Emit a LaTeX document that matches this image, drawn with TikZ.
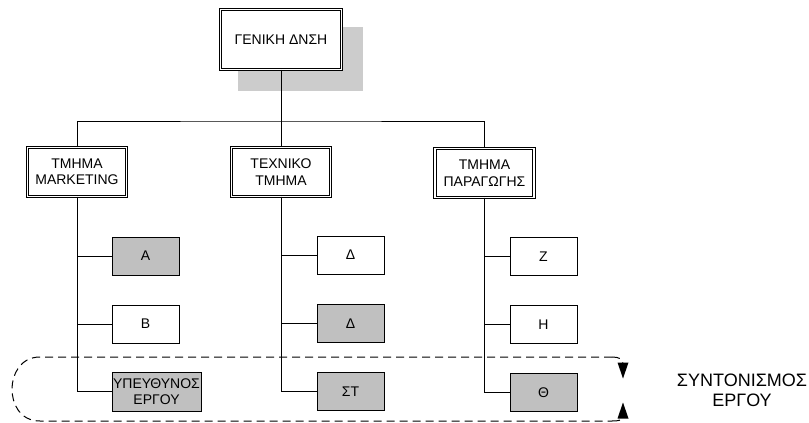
\documentclass[tikz,border=0pt]{standalone}
\usepackage{fontspec}
\setmainfont{Liberation Sans}
\usetikzlibrary{arrows.meta}
\definecolor{boxgray}{RGB}{192,192,192}
\definecolor{shadowgray}{RGB}{204,204,204}
\begin{document}
\begin{tikzpicture}[x=1pt,y=-1pt,
 txt/.style={font=\fontsize{14}{16.5}\selectfont, align=center, inner sep=0pt},
 dbl/.style={txt, draw, fill=white, line width=0.9pt, double, double distance=1.3pt},
 dept/.style={dbl, minimum width=99pt, minimum height=49pt},
 sub/.style={txt, draw, fill=white, line width=0.8pt, minimum width=67pt, minimum height=38pt},
 subg/.style={sub, fill=boxgray},
 conn/.style={line width=0.8pt},
 dsh/.style={line width=1pt, dash pattern=on 8pt off 5pt},
 tiphead/.style={fill=black}]
\useasboundingbox (0,0) rectangle (809,423);

% shadow and top box
\fill[shadowgray] (238,27) rectangle (363,91);
\node[dbl, minimum width=121pt, minimum height=60pt] (top) at (281,39.5) {ΓΕΝΙΚΗ ΔΝΣΗ};

% departments
\node[dept] (mk) at (77,172) {ΤΜΗΜΑ\\MARKETING};
\node[dept] (tx) at (281,172) {ΤΕΧΝΙΚΟ\\ΤΜΗΜΑ};
\node[dept] (pr) at (484.5,173) {ΤΜΗΜΑ\\ΠΑΡΑΓΩΓΗΣ};

\coordinate (bus) at (281,121);
\draw[conn] (top.south) -- (bus);
\draw[conn] (mk.north) |- (bus) -| (pr.north);
\draw[conn] (bus) -- (tx.north);

% sub boxes
\node[subg] (a) at (145.5,256) {Α};
\node[sub] (b) at (145.5,324) {Β};
\node[subg, minimum width=89pt, minimum height=39pt] (yp) at (156.5,391.5) {ΥΠΕΥΘΥΝΟΣ\\ΕΡΓΟΥ};

\node[sub] (d1) at (350.5,255) {Δ};
\node[subg] (d2) at (350.5,323.5) {Δ};
\node[subg] (st) at (350.5,391.5) {ΣΤ};

\node[sub] (z) at (543.5,256.5) {Ζ};
\node[sub] (h) at (543.5,324.5) {Η};
\node[subg] (th) at (543.5,392.5) {Θ};

\draw[conn] (mk.south) |- (a.west);
\draw[conn] (mk.south) |- (b.west);
\draw[conn] (mk.south) |- (yp.west);
\draw[conn] (tx.south) |- (d1.west);
\draw[conn] (tx.south) |- (d2.west);
\draw[conn] (tx.south) |- (st.west);
\draw[conn] (pr.south) |- (z.west);
\draw[conn] (pr.south) |- (h.west);
\draw[conn] (pr.south) |- (th.west);

% coordination boundary
\coordinate (tl) at (40,357);
\coordinate (tr) at (612,357);
\coordinate (bl) at (40,421);
\coordinate (br) at (612,421);
\coordinate (topend) at (623,364);
\coordinate (botend) at (623,417);
\draw[dsh] (tr) -- (tl) .. controls (20,357) and (12,375) .. (12,389) .. controls (12,404) and (20,421) .. (bl) -- (br);
\draw[dsh] (tr) .. controls (619,357) and (623,359) .. (topend);
\draw[dsh] (br) .. controls (619,421) and (623,420) .. (botend);
\fill[tiphead] (617.5,362.5) -- (628.5,362.5) -- (623,378.5) -- cycle;
\fill[tiphead] (617.5,418.5) -- (628.5,418.5) -- (623,402.5) -- cycle;

\node[font=\fontsize{18}{20}\selectfont, align=center, inner sep=0pt] (coord) at (742,390.5) {ΣΥΝΤΟΝΙΣΜΟΣ\\ΕΡΓΟΥ};
\end{tikzpicture}
\end{document}
